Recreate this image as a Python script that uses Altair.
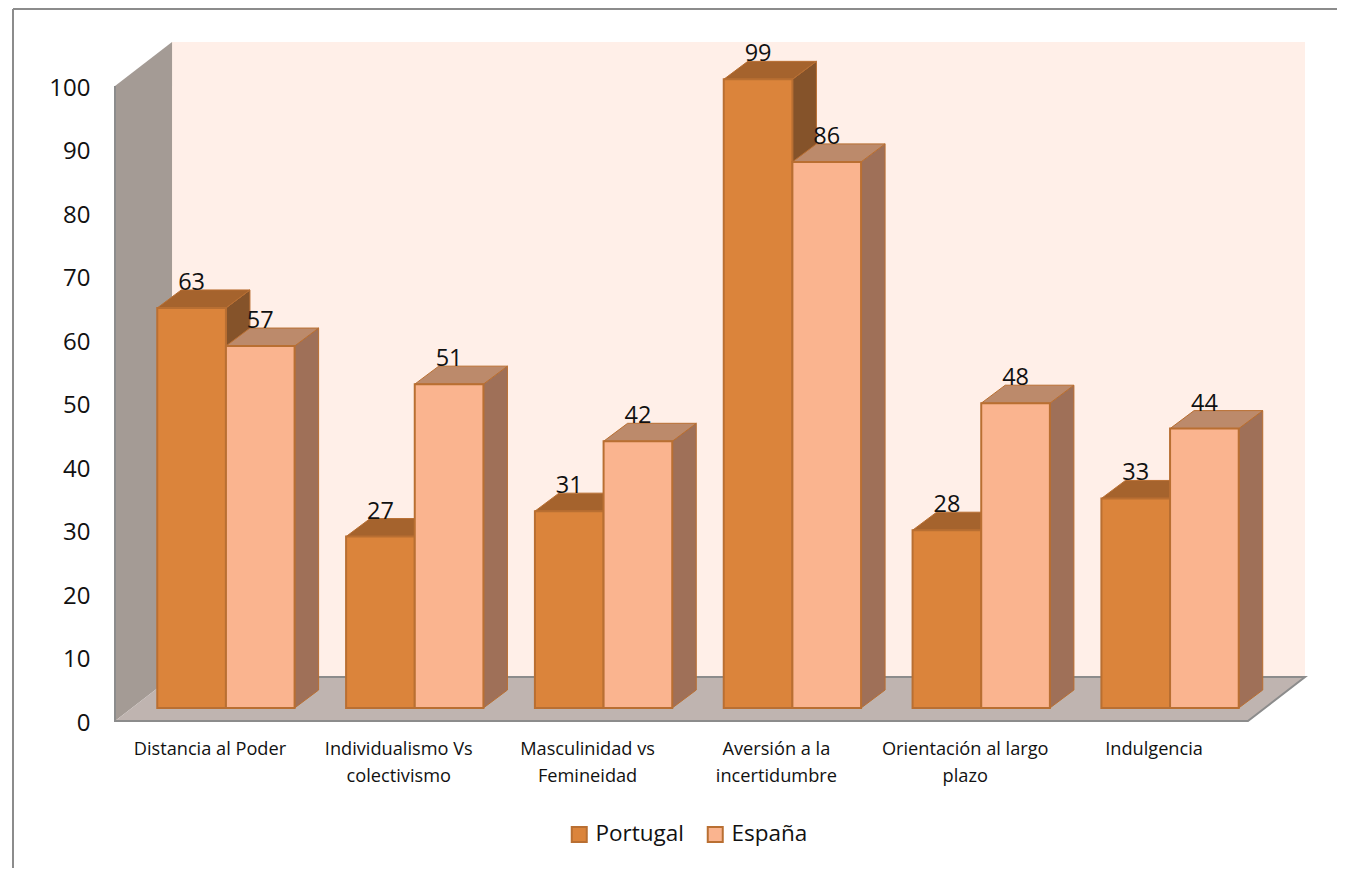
import json
import altair as alt
import pandas as pd

categories = ["Distancia al Poder", "Individualismo Vs\ncolectivismo", "Masculinidad vs\nFemineidad",
              "Aversión a la\nincertidumbre", "Orientación al largo\nplazo", "Indulgencia"]
portugal = [63, 27, 31, 99, 28, 33]
espana = [57, 51, 42, 86, 48, 44]
series_names = ["Portugal", "España"]
y_ticks = [0, 10, 20, 30, 40, 50, 60, 70, 80, 90, 100]

# geometry of the oblique projection, in axis units
PX_X, PX_Y = 188.7, 6.35
WALL_DX, WALL_DY = 57 / PX_X, 44 / PX_Y
BAR_DX, BAR_DY = 24 / PX_X, 18 / PX_Y
BASE_DX, BASE_DY = 16.5 / PX_X, 13 / PX_Y
BAR_W = 1 / 2.75
GAP = (1 - 2 * BAR_W) / 2
N = len(categories)
X_MAX = N + WALL_DX
Y_MAX = 100 + WALL_DY

front, side, top = [], [], []
for s, vals in enumerate([portugal, espana]):
    for i, v in enumerate(vals):
        l = i + GAP + BASE_DX + s * BAR_W
        r = l + BAR_W
        b = BASE_DY
        t = b + v
        fid = f"{s}-{i}"
        front.append(dict(series=series_names[s], l=l, r=r, b=b, t=t, c=(l + r) / 2, v=v))
        side += [dict(s=s, id=fid, x=r, y=t, y2=b), dict(s=s, id=fid, x=r + BAR_DX, y=t + BAR_DY, y2=b + BAR_DY)]
        top += [dict(s=s, id=fid, y=t, x=l, x2=r), dict(s=s, id=fid, y=t + BAR_DY, x=l + BAR_DX, x2=r + BAR_DX)]
front, side, top = pd.DataFrame(front), pd.DataFrame(side), pd.DataFrame(top)

FONT = "Open Sans"
STROKE = "#B96F32"
names = json.dumps(categories)

xs = alt.Scale(domain=[0, X_MAX], nice=False, zero=False)
ys = alt.Scale(domain=[0, Y_MAX], nice=False, zero=False)
x_axis = alt.Axis(
    values=[i + 0.5 for i in range(N)], labelExpr=f"split({names}[floor(datum.value)], '\\n')",
    grid=False, ticks=False, domain=False, labelFont=FONT, labelFontSize=18.2, labelColor="#111111",
    labelPadding=19, labelAngle=0, labelAlign="center", labelBaseline="top", labelLineHeight=27,
    labelOverlap=False, labelBound=False, labelFlush=False)
y_axis = alt.Axis(
    values=y_ticks, grid=False, ticks=False, domain=False, labelFont=FONT, labelFontSize=24,
    labelColor="#111111", labelPadding=25, labelOffset=2, labelOverlap=False, labelBound=False, labelFlush=False)
X = lambda f: alt.X(f, type="quantitative", scale=xs, axis=x_axis, title=None)
Y = lambda f: alt.Y(f, type="quantitative", scale=ys, axis=y_axis, title=None)

back = alt.Chart(pd.DataFrame([dict(x=WALL_DX, x2=X_MAX, y=WALL_DY, y2=Y_MAX)])).mark_rect(color="#FFEFE8").encode(
    x=X("x"), x2="x2", y=Y("y"), y2="y2")
wall = alt.Chart(pd.DataFrame([dict(x=0, y=0, y2=100), dict(x=WALL_DX, y=WALL_DY, y2=Y_MAX)])).mark_area(
    color="#A49B95").encode(x=X("x"), y=Y("y"), y2="y2")
floor = alt.Chart(pd.DataFrame([dict(y=0, x=0, x2=N), dict(y=WALL_DY, x=WALL_DX, x2=X_MAX)])).mark_area(
    color="#BFB4B0", orient="horizontal").encode(y=Y("y"), x=X("x"), x2="x2")

edge_rows = [
    dict(k="a", o=0, x=0, y=100), dict(k="a", o=1, x=0, y=0), dict(k="a", o=2, x=N, y=0),
    dict(k="a", o=3, x=X_MAX, y=WALL_DY), dict(k="a", o=4, x=WALL_DX, y=WALL_DY),
]
edges = alt.Chart(pd.DataFrame(edge_rows)).mark_line(color="#8C8C8C", strokeWidth=2).encode(
    x=X("x"), y=Y("y"), detail="k:N", order="o:Q")


def side_layer(s, col):
    return alt.Chart(side[side.s == s]).mark_area(color=col, stroke=STROKE, strokeWidth=1).encode(
        x=X("x"), y=Y("y"), y2="y2", detail="id:N")


def top_layer(s, col):
    return alt.Chart(top[top.s == s]).mark_area(color=col, orient="horizontal", stroke=STROKE, strokeWidth=1).encode(
        y=Y("y"), x=X("x"), x2="x2", detail="id:N")


fronts = alt.Chart(front).mark_bar(stroke=STROKE, strokeWidth=2).encode(
    x=X("l"), x2="r", y=Y("b"), y2="t",
    color=alt.Color("series:N", scale=alt.Scale(domain=series_names, range=["#DB843B", "#FAB48F"]),
                    legend=alt.Legend(title=None, orient="none", direction="horizontal", legendX=453, legendY=781,
                                      symbolType="square", symbolSize=225, symbolStrokeColor=STROKE,
                                      symbolStrokeWidth=2, symbolOpacity=1, labelFont=FONT, labelFontSize=22.5,
                                      labelColor="#111111", labelOffset=5, columnPadding=19, symbolOffset=0)),
)
labels = alt.Chart(front).mark_text(font=FONT, fontSize=23.5, color="#111111", dy=-25, baseline="middle").encode(
    x=X("c"), y=Y("t"), text="v:Q")

one = pd.DataFrame({"a": [0]})
border = alt.Chart(one).mark_rule(color="#8C8C8C", strokeWidth=2)
border_top = border.encode(x=alt.value(-102), x2=alt.value(1230), y=alt.value(-33))
border_left = border.encode(x=alt.value(-102), y=alt.value(-33), y2=alt.value(830))

chart = alt.layer(
    back, wall, floor, edges,
    side_layer(0, "#85532A"), top_layer(0, "#A5632D"),
    side_layer(1, "#9F7058"), top_layer(1, "#BC8A6B"),
    fronts, labels, border_top, border_left,
).properties(
    width=1190, height=679, background="white",
    padding={"left": 107, "top": 34, "right": 32, "bottom": 147},
    autosize=alt.AutoSizeParams(type="none"),
).configure_view(stroke=None)

chart.save("out.html", embed_options={"renderer": "svg", "actions": False})
